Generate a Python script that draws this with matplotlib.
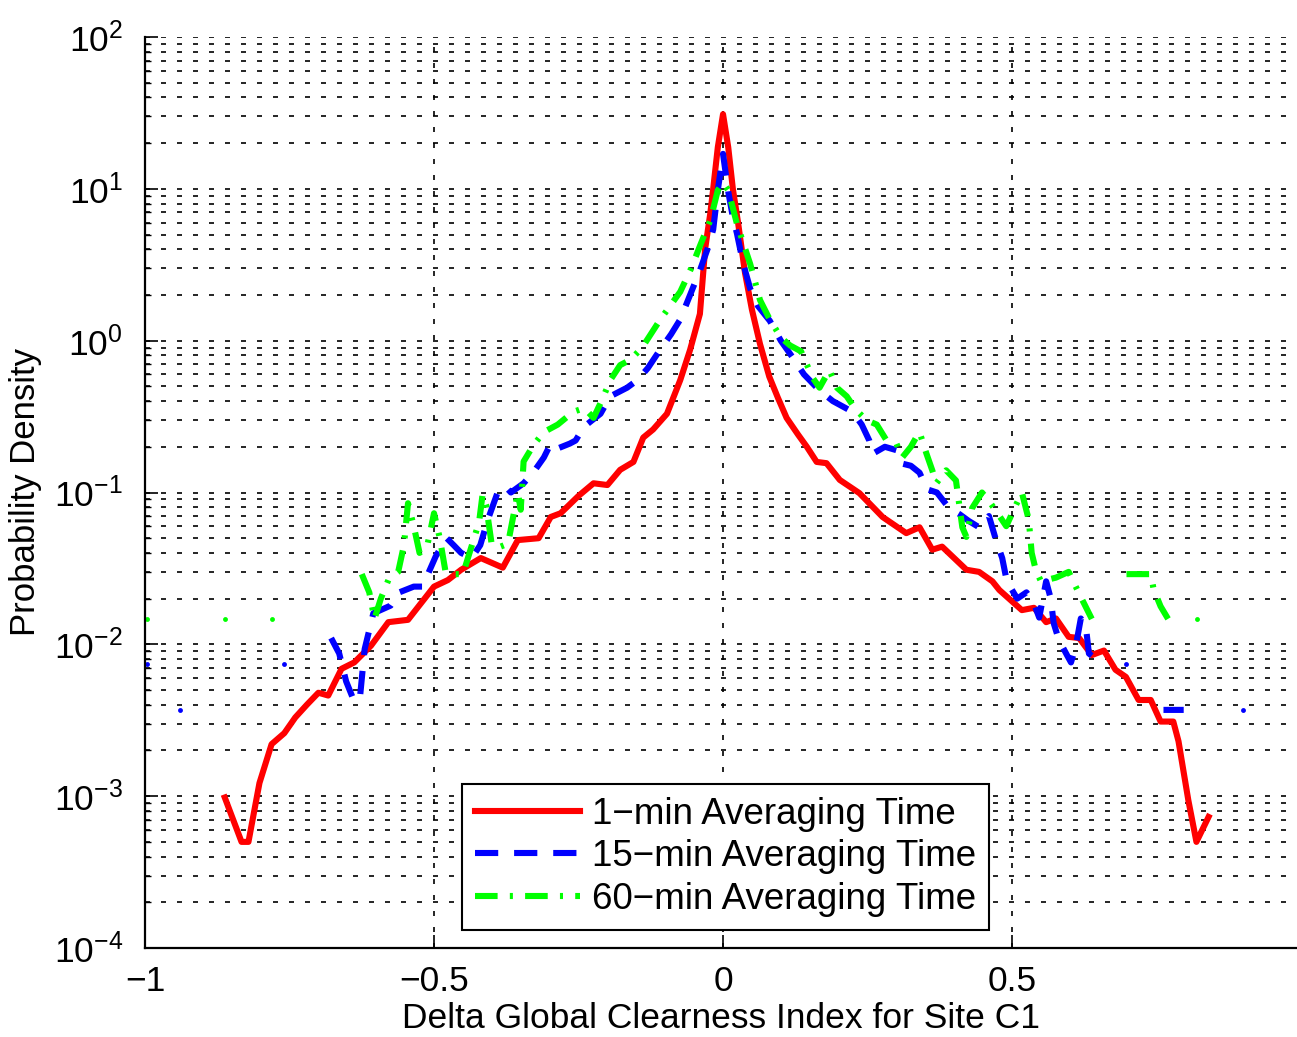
import numpy as np
import matplotlib
matplotlib.use('Agg')
import matplotlib.pyplot as plt
from matplotlib.ticker import LogLocator, NullFormatter

plt.rcParams['font.family'] = ['Liberation Sans', 'DejaVu Sans']
plt.rcParams['axes.unicode_minus'] = True

nan = np.nan

# 1-min averaging time
x1 = [-0.862, -0.833, -0.821, -0.802, -0.781, -0.759, -0.74, -0.72, -0.700, -0.683,
      -0.660, -0.638, -0.609, -0.579, -0.545, -0.500, -0.476, -0.453, -0.419, -0.381,
      -0.355, -0.319, -0.298, -0.281, -0.25, -0.224, -0.2, -0.178, -0.155, -0.138,
      -0.121, -0.097, -0.074, -0.057, -0.040, -0.031, -0.022, -0.017, -0.009, 0.0,
      0.009, 0.017, 0.026, 0.038, 0.05, 0.064, 0.08, 0.095, 0.11, 0.13,
      0.145, 0.162, 0.179, 0.202, 0.236, 0.276, 0.317, 0.34, 0.362, 0.379,
      0.421, 0.443, 0.466, 0.478, 0.517, 0.538, 0.559, 0.576, 0.598, 0.616,
      0.638, 0.659, 0.679, 0.697, 0.719, 0.740, 0.757, 0.779, 0.788, 0.805,
      0.819, 0.840]
y1 = [9.8e-4, 5e-4, 5e-4, 1.22e-3, 2.2e-3, 2.6e-3, 3.3e-3, 4.0e-3, 4.8e-3, 4.6e-3,
      6.9e-3, 7.6e-3, 9.8e-3, 0.014, 0.0145, 0.024, 0.0265, 0.031, 0.037, 0.032,
      0.0486, 0.050, 0.069, 0.073, 0.095, 0.115, 0.112, 0.141, 0.159, 0.23,
      0.26, 0.33, 0.55, 0.87, 1.5, 4.0, 6.9, 10.0, 18.8, 31.0,
      18.8, 10.0, 6.0, 2.8, 1.6, 0.95, 0.58, 0.42, 0.31, 0.24,
      0.20, 0.159, 0.156, 0.121, 0.099, 0.069, 0.054, 0.059, 0.042, 0.044,
      0.031, 0.030, 0.026, 0.0228, 0.0168, 0.0174, 0.014, 0.0148, 0.0112, 0.011,
      0.0085, 0.0091, 0.0068, 0.0061, 0.0043, 0.0043, 0.0031, 0.0031, 0.0023, 9.4e-4,
      5e-4, 7.3e-4]

# 15-min averaging time (nan = empty bin)
x15 = [-0.997, -0.97, -0.94, -0.8, -0.759, -0.7, -0.678, -0.664, -0.652, -0.638,
       -0.628, -0.62, -0.605, -0.575, -0.56, -0.535, -0.52, -0.497, -0.478, -0.466,
       -0.453, -0.435, -0.42, -0.407, -0.39, -0.377, -0.367, -0.345, -0.328, -0.31,
       -0.298, -0.286, -0.265, -0.255, -0.241, -0.226, -0.212, -0.195, -0.18, -0.166,
       -0.148, -0.13, -0.109, -0.09, -0.074, -0.057, -0.04, -0.025, -0.017, -0.009,
       0.0, 0.009, 0.017, 0.024, 0.035, 0.047, 0.06, 0.081, 0.1, 0.12,
       0.14, 0.167, 0.19, 0.224, 0.24, 0.253, 0.259, 0.28, 0.30, 0.31,
       0.325, 0.34, 0.353, 0.37, 0.391, 0.409, 0.425, 0.443, 0.46, 0.472,
       0.483, 0.491, 0.509, 0.525, 0.538, 0.547, 0.559, 0.567, 0.572, 0.581,
       0.595, 0.602, 0.61, 0.619, 0.628, 0.633, 0.653, 0.675, 0.697, 0.73,
       0.762, 0.78, 0.797, 0.85, 0.9]
y15 = [7.4e-3, nan, 3.7e-3, nan, 7.4e-3, nan, 0.011, 0.0087, 0.0057, 0.0042,
       0.0045, 0.0093, 0.016, 0.018, 0.022, 0.024, 0.024, 0.038, 0.05, 0.045,
       0.04, 0.037, 0.045, 0.066, 0.10, 0.11, 0.10, 0.115, 0.136, 0.17,
       0.21, 0.195, 0.21, 0.22, 0.27, 0.30, 0.33, 0.43, 0.46, 0.49,
       0.55, 0.66, 0.87, 1.1, 1.38, 2.0, 2.9, 4.2, 5.4, 9.8,
       17.0, 9.6, 6.5, 5.1, 3.2, 2.2, 1.7, 1.35, 1.0, 0.78,
       0.6, 0.47, 0.40, 0.34, 0.28, 0.22, 0.18, 0.20, 0.19, 0.155,
       0.15, 0.135, 0.105, 0.10, 0.079, 0.072, 0.065, 0.059, 0.07, 0.049,
       0.037, 0.026, 0.020, 0.022, 0.0186, 0.015, 0.026, 0.020, 0.0138, 0.0107,
       0.0085, 0.0076, 0.0096, 0.0148, 0.0128, 0.0087, 0.0076, nan, 7.4e-3, nan,
       3.7e-3, 3.7e-3, 3.7e-3, nan, 3.7e-3]

# 60-min averaging time (nan = empty bin)
x60 = [-0.997, -0.93, -0.862, -0.82, -0.78, -0.7, -0.625, -0.612, -0.603, -0.592,
       -0.579, -0.562, -0.552, -0.545, -0.535, -0.525, -0.512, -0.5, -0.49, -0.48,
       -0.465, -0.45, -0.43, -0.422, -0.416, -0.41, -0.40, -0.385, -0.372, -0.355,
       -0.35, -0.345, -0.328, -0.31, -0.286, -0.259, -0.24, -0.224, -0.209, -0.195,
       -0.178, -0.16, -0.14, -0.109, -0.074, -0.055, -0.04, -0.022, -0.009, 0.0,
       0.009, 0.024, 0.047, 0.064, 0.08, 0.1, 0.116, 0.135, 0.155, 0.167,
       0.184, 0.197, 0.214, 0.23, 0.248, 0.266, 0.283, 0.30, 0.31, 0.325,
       0.334, 0.34, 0.352, 0.362, 0.369, 0.386, 0.403, 0.414, 0.421, 0.431,
       0.448, 0.46, 0.475, 0.49, 0.505, 0.517, 0.529, 0.534, 0.541, 0.55,
       0.576, 0.598, 0.615, 0.638, 0.67, 0.698, 0.72, 0.74, 0.745, 0.757,
       0.77, 0.8, 0.82]
y60 = [0.0147, nan, 0.0147, nan, 0.0147, nan, 0.029, 0.022, 0.0147, 0.02,
       0.0265, 0.030, 0.045, 0.085, 0.06, 0.04, 0.044, 0.073, 0.05, 0.03,
       0.029, 0.029, 0.051, 0.064, 0.097, 0.083, 0.045, 0.044, 0.046, 0.10,
       0.077, 0.16, 0.205, 0.25, 0.28, 0.34, 0.36, 0.31, 0.41, 0.55,
       0.69, 0.75, 0.9, 1.37, 2.1, 3.0, 4.2, 6.2, 9.8, 11.0,
       9.8, 5.9, 3.2, 1.85, 1.4, 1.05, 0.93, 0.85, 0.57, 0.49,
       0.64, 0.49, 0.43, 0.35, 0.30, 0.28, 0.22, 0.21, 0.17, 0.2,
       0.23, 0.25, 0.18, 0.14, 0.115, 0.14, 0.12, 0.059, 0.051, 0.079,
       0.10, 0.088, 0.073, 0.06, 0.08, 0.10, 0.066, 0.04, 0.031, 0.026,
       0.0275, 0.030, 0.022, 0.0147, nan, 0.029, 0.029, 0.029, 0.023, 0.0178,
       0.0147, nan, 0.0147]

xtick_vals = [-1, -0.5, 0, 0.5]
xtick_labels = ['\u22121', '\u22120.5', '0', '0.5']
labels = ['1\u2212min Averaging Time', '15\u2212min Averaging Time',
          '60\u2212min Averaging Time']


def isolated(y):
    ok = np.isfinite(y)
    left = np.r_[False, ok[:-1]]
    right = np.r_[ok[1:], False]
    return ok & ~left & ~right


fig = plt.figure(figsize=(12.97, 10.37), dpi=100)
ax = fig.add_axes([145 / 1297, 1 - 948 / 1037, 1152 / 1297, 911 / 1037])

series = [
    (x1, y1, '#ff0000', '-'),
    (x15, y15, '#0000ff', (0, (3.8, 2.6))),
    (x60, y60, '#00ff00', (0, (3.7, 2.0, 0.5, 2.0))),
]
lw = 4.4
for (xs, ys, col, ls), lab in zip(series, labels):
    xs = np.array(xs, dtype=float)
    ys = np.array(ys, dtype=float)
    ax.plot(xs, ys, color=col, linestyle=ls, lw=lw, label=lab)
    iso = isolated(ys)
    if iso.any():
        ax.plot(xs[iso], ys[iso], 'o', color=col, ms=3.5, mec='none')

ax.set_yscale('log')
ax.set_ylim(1e-4, 1e2)
ax.set_xlim(-1, 0.993)
ax.yaxis.set_major_locator(LogLocator(base=10, numticks=10))
ax.yaxis.set_minor_locator(LogLocator(base=10, subs=np.arange(2, 10), numticks=20))
ax.yaxis.set_minor_formatter(NullFormatter())
ax.set_xticks(xtick_vals)
ax.set_xticklabels(xtick_labels)

grid_style = dict(color='black', linestyle=(0, (3.0, 6.6)), lw=1.2)
ax.grid(True, which='both', axis='y', **grid_style)
ax.grid(True, which='major', axis='x', **grid_style)

for side in ['top', 'right']:
    ax.spines[side].set_visible(False)
for side in ['left', 'bottom']:
    ax.spines[side].set_linewidth(1.6)

ax.tick_params(which='major', direction='in', length=9.5, width=1.2, labelsize=25.5)
ax.tick_params(which='minor', direction='in', length=4.5, width=1.0)
ax.tick_params(axis='y', which='major', pad=16)
ax.tick_params(axis='x', which='major', pad=12)

ax.set_xlabel('Delta Global Clearness Index for Site C1', fontsize=25.5, labelpad=3)
ax.set_ylabel('Probability Density', fontsize=25, labelpad=8)

leg = ax.legend(loc='lower left', bbox_to_anchor=(0.2752, 0.0198), borderaxespad=0,
                fontsize=26.5, handlelength=2.85, handletextpad=0.33, labelspacing=0.21,
                borderpad=0.35, fancybox=False, framealpha=1, edgecolor='black')
leg.get_frame().set_linewidth(1.5)

fig.savefig('out.png', dpi=100)
